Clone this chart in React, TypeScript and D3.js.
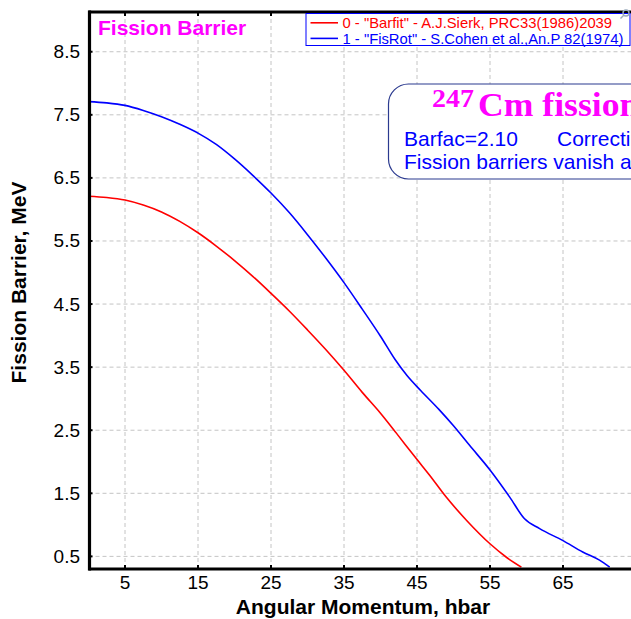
import React from 'react';
import * as d3 from 'd3';

const W = 631;
const H = 619;

// axis ticks
const xTicks = [5, 15, 25, 35, 45, 55, 65];
const yTicks = [0.5, 1.5, 2.5, 3.5, 4.5, 5.5, 6.5, 7.5, 8.5];

// series 0: "Barfit" - A.J.Sierk
const sierkL = [0, 2.5, 5, 7.5, 10, 12.5, 15, 17.5, 20, 22.5, 25, 27.5, 30, 32.5, 35, 37.5, 40, 42.2, 44.9, 46.7, 49, 51.8, 55, 57.2, 59.3];
const sierkB = [6.21, 6.19, 6.15, 6.07, 5.96, 5.81, 5.63, 5.42, 5.19, 4.94, 4.67, 4.39, 4.09, 3.78, 3.45, 3.10, 2.77, 2.45, 2.05, 1.79, 1.44, 1.07, 0.70, 0.49, 0.33];

// series 1: "FisRot" - S.Cohen et al.
const cohenL = [0, 2.5, 5, 7.5, 10, 12.5, 15, 17.5, 20, 22.5, 25, 27.5, 30, 32.5, 35, 37.5, 40, 42, 43.6, 45.5, 48, 50, 52.2, 55, 57.7, 59.7, 61.8, 65, 67.7, 70, 71.4];
const cohenB = [7.71, 7.69, 7.65, 7.57, 7.47, 7.35, 7.21, 7.03, 6.80, 6.54, 6.26, 5.95, 5.60, 5.23, 4.84, 4.42, 3.99, 3.62, 3.37, 3.13, 2.83, 2.57, 2.26, 1.87, 1.44, 1.10, 0.94, 0.75, 0.57, 0.44, 0.33];

const legendLabels = [
  '0 - "Barfit" - A.J.Sierk, PRC33(1986)2039',
  '1 - "FisRot" - S.Cohen et al.,An.P 82(1974)',
];
const seriesColors = ['#ff0000', '#0000ff'];

const chartTitle = 'Fission Barrier';
const boxMass = '247';
const boxTitle = 'Cm fission barriers';
const boxLine1a = 'Barfac=2.10';
const boxLine1b = 'Correction factor';
const boxLine2 = 'Fission barriers vanish at L=59 and L=71';
const xTitle = 'Angular Momentum, hbar';
const yTitle = 'Fission Barrier, MeV';

const SANS = '"Liberation Sans", Arial, Helvetica, sans-serif';
const SERIF = '"Liberation Serif", "Times New Roman", serif';

export default function App() {
  const x = d3.scaleLinear().domain([0, 80]).range([88.5, 88.5 + 80 * 7.3]);
  const y = d3.scaleLinear().domain([0.3, 9.13]).range([569, 12]);
  const left = x(0);
  const bottom = y(0.3);
  const top = y(9.13);

  const line = d3
    .line<[number, number]>()
    .x((d) => x(d[0]))
    .y((d) => y(d[1]))
    .curve(d3.curveMonotoneX);

  const series = [
    sierkL.map((l, i) => [l, sierkB[i]] as [number, number]),
    cohenL.map((l, i) => [l, cohenB[i]] as [number, number]),
  ];

  return (
    <svg
      width={W}
      height={H}
      viewBox={`0 0 ${W} ${H}`}
      style={{ position: 'absolute', left: 0, top: 0, background: '#fff', display: 'block' }}
      fontFamily={SANS}
    >
      <defs>
        <clipPath id="plot">
          <rect x={left} y={top} width={W - left} height={bottom - top} />
        </clipPath>
      </defs>
      <rect x={0} y={0} width={W} height={H} fill="#fff" />

      {/* grid */}
      <g stroke="#c4c4c4" strokeWidth={1} strokeDasharray="4,3">
        {xTicks.map((t) => (
          <line key={'gx' + t} x1={x(t)} x2={x(t)} y1={top} y2={bottom} />
        ))}
        {yTicks.map((t) => (
          <line key={'gy' + t} x1={left} x2={W} y1={y(t)} y2={y(t)} />
        ))}
      </g>

      {/* curves */}
      <g clipPath="url(#plot)" fill="none" strokeWidth={1.6}>
        {series.map((s, i) => (
          <path key={i} d={line(s) || ''} stroke={seriesColors[i]} />
        ))}
      </g>

      {/* tick marks */}
      <g stroke="#000" strokeWidth={2}>
        {xTicks.map((t) => (
          <line key={'tb' + t} x1={x(t)} x2={x(t)} y1={bottom} y2={bottom - 4} />
        ))}
        {xTicks.map((t) => (
          <line key={'tt' + t} x1={x(t)} x2={x(t)} y1={top} y2={top + 4} />
        ))}
        {yTicks.map((t) => (
          <line key={'tl' + t} x1={left} x2={left + 4} y1={y(t)} y2={y(t)} />
        ))}
      </g>

      {/* axes frame */}
      <g stroke="#000" strokeWidth={3.2} fill="none">
        <line x1={left + 1} x2={left + 1} y1={top - 1.5} y2={bottom + 1.5} />
        <line x1={left} x2={W} y1={bottom} y2={bottom} />
        <line x1={left} x2={W} y1={top} y2={top} />
      </g>

      {/* tick labels */}
      <g fontSize={19} fill="#000">
        {xTicks.map((t) => (
          <text key={'xl' + t} x={x(t)} y={589} textAnchor="middle">
            {String(t)}
          </text>
        ))}
        {yTicks.map((t) => (
          <text key={'yl' + t} x={80} y={y(t) + 6.5} textAnchor="end">
            {t.toFixed(1)}
          </text>
        ))}
      </g>

      {/* axis titles */}
      <text x={363} y={614} textAnchor="middle" fontSize={21} fontWeight="bold" fill="#000">
        {xTitle}
      </text>
      <text
        transform="translate(26,282.5) rotate(-90)"
        textAnchor="middle"
        fontSize={21}
        fontWeight="bold"
        fill="#000"
      >
        {yTitle}
      </text>

      {/* chart title */}
      <text x={98} y={35} fontSize={21} fontWeight="bold" fill="#ff00ff">
        {chartTitle}
      </text>

      {/* legend */}
      <g>
        <rect x={306} y={13.5} width={324} height={32} fill="#fff" stroke="#0000ff" strokeWidth={1} />
        {legendLabels.map((lab, i) => (
          <g key={lab}>
            <line
              x1={310.5}
              x2={338}
              y1={22.8 + i * 15.6}
              y2={22.8 + i * 15.6}
              stroke={seriesColors[i]}
              strokeWidth={1.6}
            />
            <text x={342.5} y={28 + i * 15.6} fontSize={14.8} fill={seriesColors[i]}>
              {lab}
            </text>
          </g>
        ))}
        <g stroke="#9ab" strokeWidth={1.4} fill="none">
          <circle cx={626} cy={13} r={3} />
          <line x1={624} x2={620.5} y1={15} y2={18.5} />
        </g>
      </g>

      {/* annotation box */}
      <g>
        <rect x={388.5} y={84} width={280} height={95} rx={20} ry={20} fill="#fff" stroke="#2b3a8f" strokeWidth={1.2} />
        <text transform="translate(432,107) scale(1.12,1)" fontFamily={SERIF} fontWeight="bold" fontSize={25} fill="#ff00ff">
          {boxMass}
        </text>
        <text transform="translate(478,116) scale(1.08,1)" fontFamily={SERIF} fontWeight="bold" fontSize={33} fill="#ff00ff">
          {boxTitle}
        </text>
        <text x={404} y={146} fontSize={21} fill="#0000ff">
          {boxLine1a}
        </text>
        <text x={557} y={146} fontSize={21} fill="#0000ff">
          {boxLine1b}
        </text>
        <text x={404} y={169} fontSize={21} fill="#0000ff">
          {boxLine2}
        </text>
      </g>
    </svg>
  );
}
